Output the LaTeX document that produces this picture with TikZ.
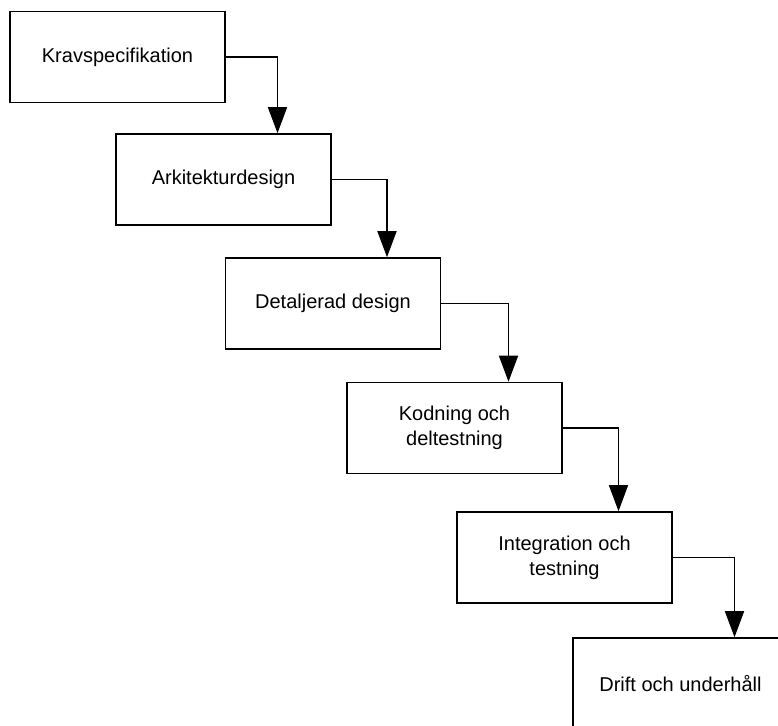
\documentclass[tikz,border=0pt]{standalone}
\usepackage{fontspec}
\setmainfont{Liberation Sans}
\usetikzlibrary{positioning, arrows.meta, calc}

\begin{document}
\begin{tikzpicture}[x=1pt, y=-1pt]
	% Define styles
	\tikzset{
		block/.style={rectangle, draw, line width=1.6pt, minimum width=215pt, minimum height=91pt, align=center, font=\fontsize{20}{25}\selectfont},
		line/.style={draw, line width=1.6pt, -{Triangle[length=26pt, width=19pt]}}
	}
	\clip (0,0) rectangle (778,725);
	
	% Nodes
	\node[block] (k1) at (117.5,57) {Kravspecifikation};
	\node[block] (k2) at (223.5,179.5) {Arkitekturdesign};
	\node[block] (k3) at (333,303.5) {Detaljerad design};
	\node[block] (k4) at (454.5,428) {Kodning och\\deltestning};
	\node[block] (k5) at (564.5,557.5) {Integration och\\testning};
	\node[block] (k6) at (680.5,683.5) {Drift och underhåll};
	
	% Arrows
	\path [line] (k1.east) -| ([xshift=54pt]k2.north);
	\path [line] (k2.east) -| ([xshift=54pt]k3.north);
	\path [line] (k3.east) -| ([xshift=54pt]k4.north);
	\path [line] (k4.east) -| ([xshift=54pt]k5.north);
	\path [line] (k5.east) -| ([xshift=54pt]k6.north);
\end{tikzpicture}
\end{document}
